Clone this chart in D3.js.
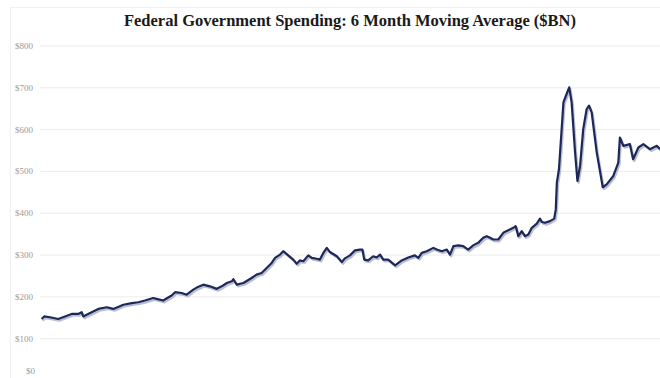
<!DOCTYPE html>
<html>
<head>
<meta charset="utf-8">
<script src="https://cdn.jsdelivr.net/npm/d3@7"></script>
<style>
  html, body { margin: 0; padding: 0; background: #ffffff; }
  svg { display: block; }
</style>
</head>
<body>
<svg id="chart" width="660" height="378"></svg>
<script>
// ---- data ----
const titleText = "Federal Government Spending: 6 Month Moving Average ($BN)";
const yTicks = [0, 100, 200, 300, 400, 500, 600, 700, 800];
const years = [
  2000.06, 2000.16, 2000.38, 2000.69, 2000.95, 2001.20, 2001.45, 2001.58, 2001.64, 2001.90,
  2002.21, 2002.53, 2002.78, 2003.16, 2003.48, 2003.73, 2003.98, 2004.29, 2004.42, 2004.67,
  2004.99, 2005.12, 2005.37, 2005.56, 2005.81, 2005.94, 2006.19, 2006.44, 2006.70, 2006.89,
  2007.08, 2007.27, 2007.33, 2007.46, 2007.71, 2008.02, 2008.21, 2008.40, 2008.59, 2008.78,
  2008.91, 2009.10, 2009.22, 2009.41, 2009.60, 2009.73, 2009.85, 2009.98, 2010.17, 2010.30,
  2010.49, 2010.61, 2010.74, 2010.87, 2010.99, 2011.25, 2011.44, 2011.56, 2011.75, 2011.94,
  2012.13, 2012.22, 2012.29, 2012.44, 2012.63, 2012.76, 2012.89, 2013.01, 2013.20, 2013.46,
  2013.71, 2013.96, 2014.21, 2014.34, 2014.47, 2014.66, 2014.91, 2015.04, 2015.23, 2015.42,
  2015.54, 2015.67, 2015.86, 2016.04, 2016.23, 2016.42, 2016.61, 2016.80, 2016.93, 2017.06,
  2017.18, 2017.37, 2017.56, 2017.75, 2017.94, 2018.03, 2018.13, 2018.26, 2018.38, 2018.51,
  2018.64, 2018.83, 2018.95, 2019.02, 2019.14, 2019.33, 2019.49, 2019.55, 2019.59, 2019.67,
  2019.84, 2019.96, 2020.06, 2020.15, 2020.28, 2020.37, 2020.47, 2020.59, 2020.72, 2020.81,
  2020.91, 2021.10, 2021.33, 2021.48, 2021.73, 2021.92, 2021.98, 2022.11, 2022.36, 2022.48,
  2022.68, 2022.87, 2023.12, 2023.38, 2023.50
];
const spending = [
  146, 152, 150, 146, 152, 158, 158, 162, 152, 160,
  170, 174, 170, 180, 184, 186, 190, 196, 194, 190,
  202, 210, 208, 204, 216, 221, 228, 224, 218, 224,
  232, 236, 241, 228, 232, 244, 252, 256, 268, 280,
  292, 300, 308, 298, 288, 278, 286, 284, 298, 292,
  290, 288, 304, 316, 306, 296, 282, 291, 298, 310,
  312, 312, 288, 286, 296, 293, 300, 288, 288, 274,
  286, 293, 298, 292, 304, 308, 316, 312, 308, 312,
  300, 320, 322, 320, 312, 322, 328, 340, 344, 340,
  336, 336, 352, 358, 364, 368, 344, 356, 344, 348,
  364, 374, 386, 378, 376, 380, 386, 408, 472, 504,
  664, 684, 700, 664, 545, 476, 512, 600, 648, 656,
  640, 545, 461, 468, 488, 520, 580, 560, 564, 528,
  556, 564, 552, 560, 552
];

// ---- layout ----
const svg = d3.select("#chart");
const W = 660, H = 378;
const plotLeft = 40, plotRight = 660;

const x = d3.scaleLinear().domain([2000, 2023.5]).range([plotLeft, plotRight]);
const y = d3.scaleLinear().domain([0, 800]).range([380, 45.5]);

// faint panel frame
svg.append("rect")
  .attr("x", 10.5).attr("y", 7.5)
  .attr("width", W).attr("height", H)
  .attr("fill", "#ffffff")
  .attr("stroke", "#f0f0f0")
  .attr("stroke-width", 1);

// gridlines + labels via axis
const yAxis = d3.axisLeft(y)
  .tickValues(yTicks)
  .tickSize(-(plotRight - plotLeft))
  .tickPadding(8)
  .tickFormat(d => "$" + d);

const gy = svg.append("g")
  .attr("transform", `translate(${plotLeft},0)`)
  .call(yAxis);
gy.select(".domain").remove();
gy.selectAll(".tick line")
  .attr("stroke", "#ececec")
  .attr("stroke-width", 1);
gy.selectAll(".tick text")
  .attr("fill", "#9a9a9a")
  .attr("font-family", "'Liberation Serif', 'DejaVu Serif', serif")
  .attr("font-size", 9)
  .attr("text-anchor", "start")
  .attr("x", -25);
// keep the bottom label inside the picture
gy.selectAll(".tick").filter(d => d === 0).select("text")
  .attr("x", -14)
  .attr("dy", "-0.75em");

// line
const pts = years.map((yr, i) => [yr, spending[i]]);
const line = d3.line()
  .x(d => x(d[0]))
  .y(d => y(d[1]))
  .curve(d3.curveLinear);

// soft shadow
svg.append("path")
  .datum(pts)
  .attr("d", line)
  .attr("fill", "none")
  .attr("stroke", "#b9bfd3")
  .attr("stroke-width", 2.2)
  .attr("stroke-linejoin", "round")
  .attr("transform", "translate(1.2,1.8)");

svg.append("path")
  .datum(pts)
  .attr("d", line)
  .attr("fill", "none")
  .attr("stroke", "#1e2858")
  .attr("stroke-width", 2.2)
  .attr("stroke-linejoin", "round");

// title
svg.append("text")
  .attr("x", 350)
  .attr("y", 26)
  .attr("text-anchor", "middle")
  .attr("font-family", "'Liberation Serif', 'DejaVu Serif', serif")
  .attr("font-weight", "bold")
  .attr("font-size", 16.5)
  .attr("fill", "#1a1a1a")
  .text(titleText);
</script>
</body>
</html>
